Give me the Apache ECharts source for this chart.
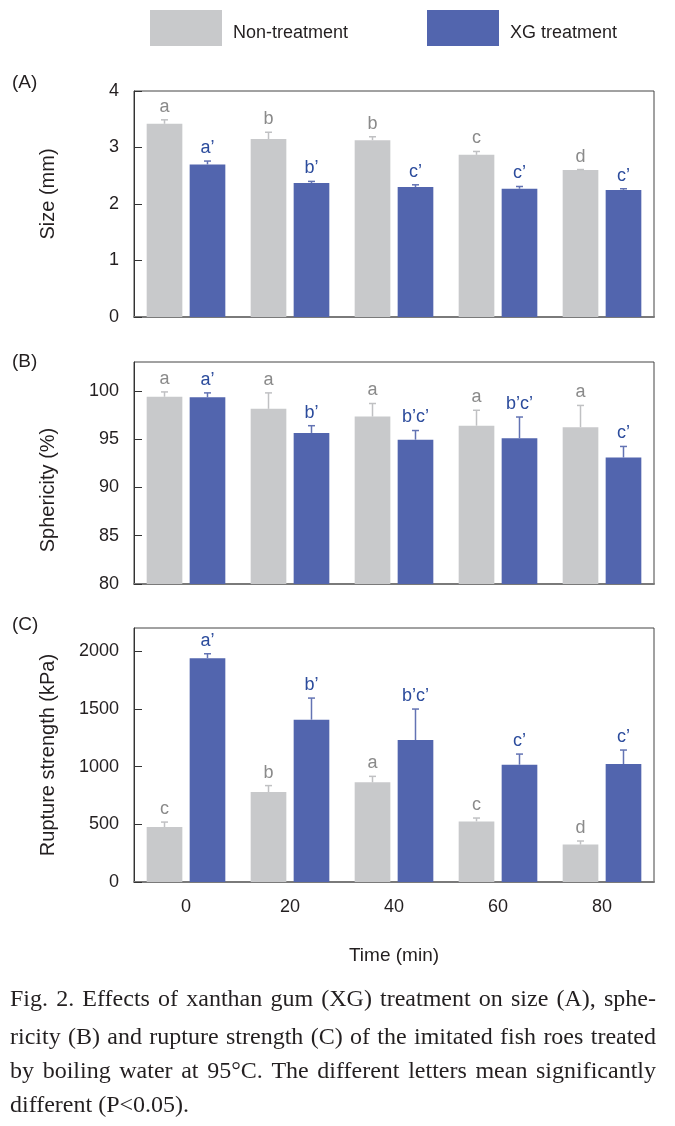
<!DOCTYPE html>
<html><head><meta charset="utf-8">
<script src="https://cdn.jsdelivr.net/npm/echarts@6/dist/echarts.min.js"></script>
<style>html,body{margin:0;padding:0;background:#fff}#c{width:675px;height:1126px}</style>
</head><body><div id="c"></div>
<script>
// ---------- DATA ----------
const categories = ['0', '20', '40', '60', '80'];
const seriesNames = ['Non-treatment', 'XG treatment'];

const sizeNon = [3.42, 3.15, 3.13, 2.87, 2.60];
const sizeNonErr = [0.07, 0.12, 0.06, 0.06, 0.01];
const sizeXG = [2.70, 2.37, 2.30, 2.27, 2.25];
const sizeXGErr = [0.06, 0.03, 0.04, 0.04, 0.02];
const sizeNonLetters = ['a', 'b', 'b', 'c', 'd'];
const sizeXGLetters = ['a’', 'b’', 'c’', 'c’', 'c’'];

const sphNon = [99.4, 98.15, 97.35, 96.4, 96.25];
const sphNonErr = [0.5, 1.65, 1.35, 1.6, 2.25];
const sphXG = [99.35, 95.65, 94.95, 95.1, 93.1];
const sphXGErr = [0.45, 0.75, 0.95, 2.2, 1.15];
const sphNonLetters = ['a', 'a', 'a', 'a', 'a'];
const sphXGLetters = ['a’', 'b’', 'b’c’', 'b’c’', 'c’'];

const rupNon = [476, 779, 863, 525, 324];
const rupNonErr = [43, 56, 52, 29, 31];
const rupXG = [1939, 1406, 1229, 1016, 1022];
const rupXGErr = [38, 187, 269, 92, 121];
const rupNonLetters = ['c', 'b', 'a', 'c', 'd'];
const rupXGLetters = ['a’', 'b’', 'b’c’', 'c’', 'c’'];

const panelLabels = ['(A)', '(B)', '(C)'];
const yNames = ['Size (mm)', 'Sphericity (%)', 'Rupture strength (kPa)'];
const xName = 'Time (min)';
const captionLines = [
  'Fig. 2. Effects of xanthan gum (XG) treatment on size (A), sphe-',
  'ricity (B) and rupture strength (C) of the imitated fish roes treated',
  'by boiling water at 95°C. The different letters mean significantly',
  'different (P<0.05).'
];

// ---------- STYLE ----------
const GRAY = '#c8c9cb', BLUE = '#5265ae';
const GRAY_ERR = '#c0c1c3', BLUE_ERR = '#6373b3';
const GRAY_TXT = '#8a8a8a', BLUE_TXT = '#2b4b9c';
const TXT = '#231f20';
const SANS = '"Liberation Sans", Arial, sans-serif';
const SERIF = '"Liberation Serif", "Times New Roman", serif';
const BAR_W = 0.343, BAR_GAP = 0.205;

const grids = [
  {left: 134, right: 21, top: 91, height: 226},
  {left: 134, right: 21, top: 362, height: 222},
  {left: 134, right: 21, top: 628, height: 254}
];
const yCfg = [
  {min: 0, max: 4, interval: 1, showMax: true, namePad: [0, 0, 0, 20]},
  {min: 80, max: 103, interval: 5, showMax: false, namePad: [0, 34, 0, 0]},
  {min: 0, max: 2200, interval: 500, showMax: false, namePad: [0, 0, 0, 0]}
];

const panels = [
  [sizeNon, sizeNonErr, sizeNonLetters, sizeXG, sizeXGErr, sizeXGLetters],
  [sphNon, sphNonErr, sphNonLetters, sphXG, sphXGErr, sphXGLetters],
  [rupNon, rupNonErr, rupNonLetters, rupXG, rupXGErr, rupXGLetters]
];

function errSeries(g, vals, errs, letters, side, color, textColor) {
  return {
    type: 'custom', xAxisIndex: g, yAxisIndex: g, z: 5, silent: true,
    data: vals.map((v, i) => [i, v, v + errs[i]]),
    renderItem(params, api) {
      const i = api.value(0);
      const base = api.coord([i, api.value(1)]);
      const top = api.coord([i, api.value(2)]);
      const cw = api.size([1, 0])[0];
      const bw = cw * BAR_W;
      const x = base[0] + side * bw * (1 + BAR_GAP) / 2;
      const cap = 3.5;
      return {type: 'group', children: [
        {type: 'line', shape: {x1: x, y1: base[1], x2: x, y2: top[1]}, style: {stroke: color, lineWidth: 1.5}},
        {type: 'line', shape: {x1: x - cap, y1: top[1], x2: x + cap, y2: top[1]}, style: {stroke: color, lineWidth: 1.5}},
        {type: 'text', x: x, y: top[1] - 4, style: {text: letters[i], fill: textColor, font: '18px ' + SANS, align: 'center', verticalAlign: 'bottom'}}
      ]};
    }
  };
}

const xAxes = [], yAxes = [], series = [];
grids.forEach((gd, g) => {
  const last = g === 2;
  xAxes.push({
    type: 'category', gridIndex: g, data: categories,
    axisLine: {lineStyle: {color: '#7a7a7a', width: 2}},
    axisTick: {show: false},
    axisLabel: {show: last, fontSize: 18, color: TXT, fontFamily: SANS, margin: 16},
    name: last ? xName : '', nameLocation: 'middle', nameGap: 64,
    nameTextStyle: {fontSize: 19, color: TXT, fontFamily: SANS}
  });
  const yc = yCfg[g];
  yAxes.push({
    type: 'value', gridIndex: g, min: yc.min, max: yc.max, interval: yc.interval,
    axisLine: {show: true, lineStyle: {color: '#333', width: 1}},
    axisTick: {show: true, inside: true, length: 8, lineStyle: {color: '#333'}},
    axisLabel: {fontSize: 18, color: TXT, fontFamily: SANS, margin: 15, showMaxLabel: yc.showMax,
                formatter: v => String(v)},
    splitLine: {show: false},
    name: yNames[g], nameLocation: 'middle', nameGap: 76,
    nameTextStyle: {fontSize: 20, color: TXT, fontFamily: SANS, padding: yc.namePad}
  });
  const p = panels[g];
  series.push({
    name: seriesNames[0], type: 'bar', xAxisIndex: g, yAxisIndex: g,
    data: p[0], barWidth: (BAR_W * 100) + '%', barGap: (BAR_GAP * 100) + '%',
    itemStyle: {color: GRAY}, silent: true
  });
  series.push({
    name: seriesNames[1], type: 'bar', xAxisIndex: g, yAxisIndex: g,
    data: p[3], barWidth: (BAR_W * 100) + '%', barGap: (BAR_GAP * 100) + '%',
    itemStyle: {color: BLUE}, silent: true
  });
  series.push(errSeries(g, p[0], p[1], p[2], -1, GRAY_ERR, GRAY_TXT));
  series.push(errSeries(g, p[3], p[4], p[5], 1, BLUE_ERR, BLUE_TXT));
});

// ---------- caption (justified) ----------
const CAP_FONT = '24px ' + SERIF;
const CAP_LEFT = 10, CAP_W = 646;
const capY = [1000, 1038, 1072, 1106];
const mctx = document.createElement('canvas').getContext('2d');
mctx.font = CAP_FONT;
const graphics = [];
captionLines.forEach((line, li) => {
  const words = line.split(' ');
  const ws = words.map(w => mctx.measureText(w).width);
  const total = ws.reduce((a, b) => a + b, 0);
  const justify = li < captionLines.length - 1;
  const gap = justify ? (CAP_W - total) / (words.length - 1) : mctx.measureText(' ').width;
  let x = CAP_LEFT;
  words.forEach((w, wi) => {
    graphics.push({type: 'text', x: x, y: capY[li], silent: true,
      style: {text: w, font: CAP_FONT, fill: TXT, align: 'left', verticalAlign: 'middle'}});
    x += ws[wi] + gap;
  });
});
const panelLabelY = [83, 362, 625];
panelLabels.forEach((t, i) => {
  graphics.push({type: 'text', x: 12, y: panelLabelY[i], silent: true,
    style: {text: t, font: '19px ' + SANS, fill: TXT, align: 'left', verticalAlign: 'middle'}});
});

const legendText = {
  fontSize: 18, color: TXT, fontFamily: SANS,
  rich: {t: {fontSize: 18, color: TXT, fontFamily: SANS, padding: [11, 0, 0, 6]}}
};
const chart = echarts.init(document.getElementById('c'), null, {renderer: 'canvas'});
chart.setOption({
  animation: false,
  backgroundColor: '#fff',
  grid: grids.map(g => Object.assign({show: true, borderColor: '#444', borderWidth: 1, backgroundColor: 'transparent'}, g)),
  legend: [
    {data: [seriesNames[0]], left: 150, top: 10, padding: 0, itemWidth: 72, itemHeight: 36, icon: 'rect',
     selectedMode: false, formatter: n => '{t|' + n + '}', textStyle: legendText},
    {data: [seriesNames[1]], left: 427, top: 10, padding: 0, itemWidth: 72, itemHeight: 36, icon: 'rect',
     selectedMode: false, formatter: n => '{t|' + n + '}', textStyle: legendText}
  ],
  xAxis: xAxes,
  yAxis: yAxes,
  series: series,
  graphic: graphics
});
</script></body></html>
